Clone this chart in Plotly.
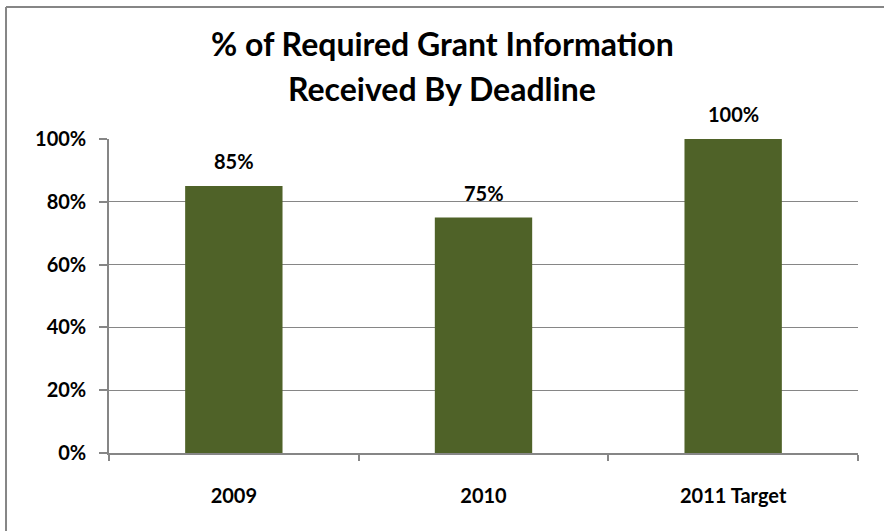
import plotly.graph_objects as go

# Share of required grant information received by the deadline
categories = ["2009", "2010", "2011 Target"]
received_share = [0.85, 0.75, 1.00]
y_tick_values = [0, 0.2, 0.4, 0.6, 0.8, 1.0]
y_tick_labels = ["0%", "20%", "40%", "60%", "80%", "100%"]
title_lines = ["% of Required Grant Information", "Received By Deadline"]

BAR_COLOR = "#4F6228"
LINE_COLOR = "#868686"
FONT = "Lato"

fig = go.Figure()
fig.add_trace(go.Bar(
    x=categories,
    y=received_share,
    marker=dict(color=BAR_COLOR, line=dict(width=0)),
    width=0.39,
    hoverinfo="skip",
))

# Value labels above each bar (positioned by category index)
for idx, val in enumerate(received_share):
    fig.add_annotation(
        x=idx, y=val, xref="x", yref="y",
        text=f"<b>{val:.0%}</b>",
        showarrow=False, yshift=25,
        font=dict(family=FONT, size=20, color="black"),
    )

# Two-line chart title, centred on the whole frame
for line, ypos in zip(title_lines, [1.303, 1.162]):
    fig.add_annotation(
        x=0.4446, y=ypos, xref="paper", yref="paper",
        xanchor="center", yanchor="middle",
        text=f"<b>{line}</b>", showarrow=False,
        font=dict(family=FONT, size=32, color="black"),
    )

# Outer frame of the chart
fig.add_shape(type="line", xref="paper", yref="paper",
              x0=-0.1375, x1=-0.1375, y0=-0.3, y1=1.4204,
              line=dict(color=LINE_COLOR, width=2))
fig.add_shape(type="line", xref="paper", yref="paper",
              x0=-0.1375, x1=1.1, y0=1.4204, y1=1.4204,
              line=dict(color=LINE_COLOR, width=2))

fig.update_layout(
    width=884, height=531,
    margin=dict(l=109, r=26, t=139, b=78, autoexpand=False),
    paper_bgcolor="white", plot_bgcolor="white",
    showlegend=False,
    font=dict(family=FONT, color="black"),
)

fig.update_yaxes(
    range=[0, 1.0], tickvals=y_tick_values, ticktext=[f"<b>{t}</b>" for t in y_tick_labels],
    showgrid=True, gridcolor=LINE_COLOR, gridwidth=1,
    showline=True, linecolor=LINE_COLOR, linewidth=1.5,
    ticks="outside", ticklen=8, tickcolor=LINE_COLOR, tickwidth=1.5,
    ticklabelstandoff=9, automargin=False,
    tickfont=dict(family=FONT, size=20, color="black"),
    zeroline=False,
)
fig.update_xaxes(
    type="category", categoryorder="array", categoryarray=categories,
    range=[-0.5, len(categories) - 0.5],
    tickvals=categories, ticktext=[f"<b>{c}</b>" for c in categories],
    showline=True, linecolor=LINE_COLOR, linewidth=1.5,
    ticks="outside", tickson="boundaries", ticklen=6, tickcolor=LINE_COLOR, tickwidth=1.5,
    ticklabelstandoff=24, tickangle=0, automargin=False,
    tickfont=dict(family=FONT, size=20, color="black"),
    showgrid=False,
)

fig.write_html("out.html")
